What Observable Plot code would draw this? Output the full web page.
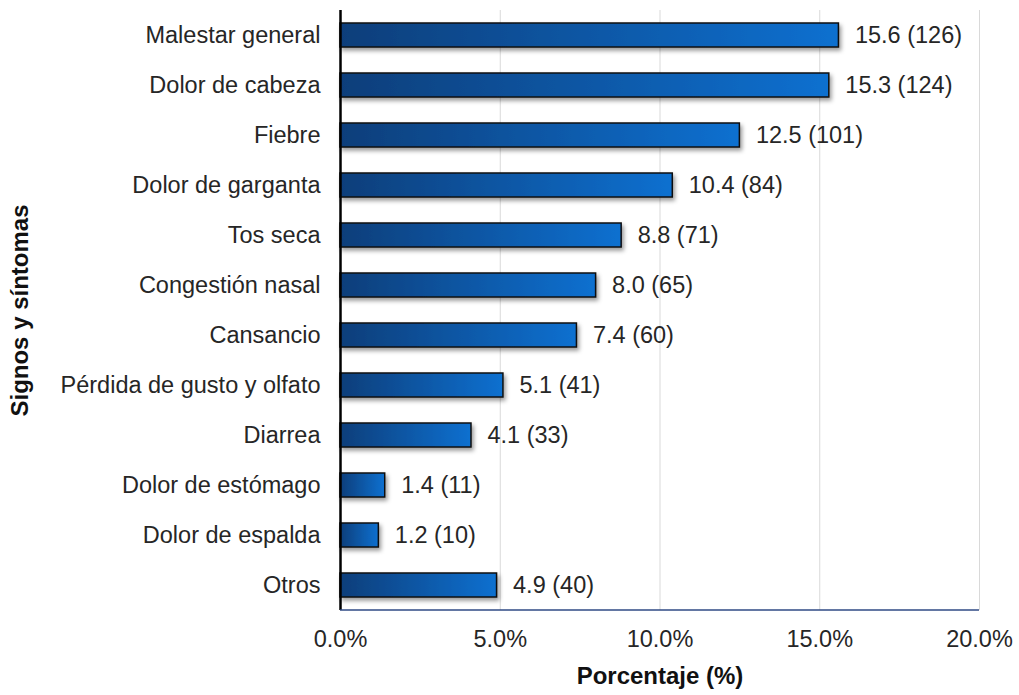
<!DOCTYPE html>
<html><head><meta charset="utf-8">
<script src="https://cdn.jsdelivr.net/npm/d3@7"></script>
<script src="https://cdn.jsdelivr.net/npm/@observablehq/plot@0.6"></script>
<style>
body{margin:0;background:#fff;}
#chart svg{display:block;}
</style>
</head><body><div id="chart"></div>
<script>
const categories = ["Malestar general","Dolor de cabeza","Fiebre","Dolor de garganta","Tos seca","Congestión nasal","Cansancio","Pérdida de gusto y olfato","Diarrea","Dolor de estómago","Dolor de espalda","Otros"];
const percents = [15.6,15.3,12.5,10.4,8.8,8.0,7.4,5.1,4.1,1.4,1.2,4.9];
const counts = [126,124,101,84,71,65,60,41,33,11,10,40];
const xTicks = [0,5,10,15,20];

const data = categories.map((c,i)=>({cat:c, pct:percents[i], n:counts[i]}));
const font = "'Liberation Sans', Arial, sans-serif";
const fs = 23.5;

const plot = Plot.plot({
  width: 1019, height: 695,
  marginLeft: 340, marginRight: 40, marginTop: 10, marginBottom: 85,
  style: {fontFamily: font, fontSize: fs + "px", color: "#262626", background: "#fff"},
  x: {domain: [0,20]},
  y: {domain: categories, paddingInner: 0.52, paddingOuter: 0.26},
  marks: [
    Plot.gridX(xTicks, {stroke: "#d9d9d9", strokeOpacity: 1, strokeWidth: 1}),
    Plot.barX(data, {x: "pct", y: "cat", fill: "url(#barGrad)", stroke: "#111", strokeWidth: 1.5}),
    Plot.text(data, {x: "pct", y: "cat", text: d => `${d.pct.toFixed(1)} (${d.n})`, dx: 16, textAnchor: "start", fontSize: fs, fill: "#262626"}),
    Plot.axisX({ticks: xTicks, tickSize: 0, tickPadding: 20, tickFormat: d => d.toFixed(1) + "%", fontSize: fs,
      label: "Porcentaje (%)", labelAnchor: "center", labelArrow: "none", labelOffset: 73}),
    Plot.axisY({tickSize: 0, tickPadding: 20, fontSize: fs, label: "Signos y síntomas", labelAnchor: "center", labelArrow: "none", labelOffset: 330}),
    Plot.ruleX([0], {stroke: "#000", strokeWidth: 2.5})
  ]
});

const svg = d3.select(plot);
const defs = svg.insert("defs", ":first-child");
const g = defs.append("linearGradient").attr("id","barGrad").attr("x1","0").attr("x2","1").attr("y1","0").attr("y2","0");
g.append("stop").attr("offset","0%").attr("stop-color","#083e7a");
g.append("stop").attr("offset","100%").attr("stop-color","#0a70d0");
const f = defs.append("filter").attr("id","shadow").attr("x","-10%").attr("y","-30%").attr("width","130%").attr("height","180%");
f.append("feDropShadow").attr("dx",2).attr("dy",3).attr("stdDeviation",2).attr("flood-color","#000").attr("flood-opacity",0.4);
svg.selectAll("rect[fill='url(#barGrad)'], g[fill='url(#barGrad)'] rect").attr("filter","url(#shadow)");

const xs = plot.scale("x");
const bottomY = 695 - 85;
svg.append("line").attr("x1", xs.apply(0)).attr("x2", xs.apply(20)).attr("y1", bottomY).attr("y2", bottomY)
  .attr("stroke", "#2f4a85").attr("stroke-width", 1.5);

svg.selectAll("[aria-label='x-axis label'], [aria-label='y-axis label']")
  .attr("font-weight","bold").attr("fill","#111").attr("font-size", "24px");

document.getElementById("chart").appendChild(plot);
</script>
</body></html>
